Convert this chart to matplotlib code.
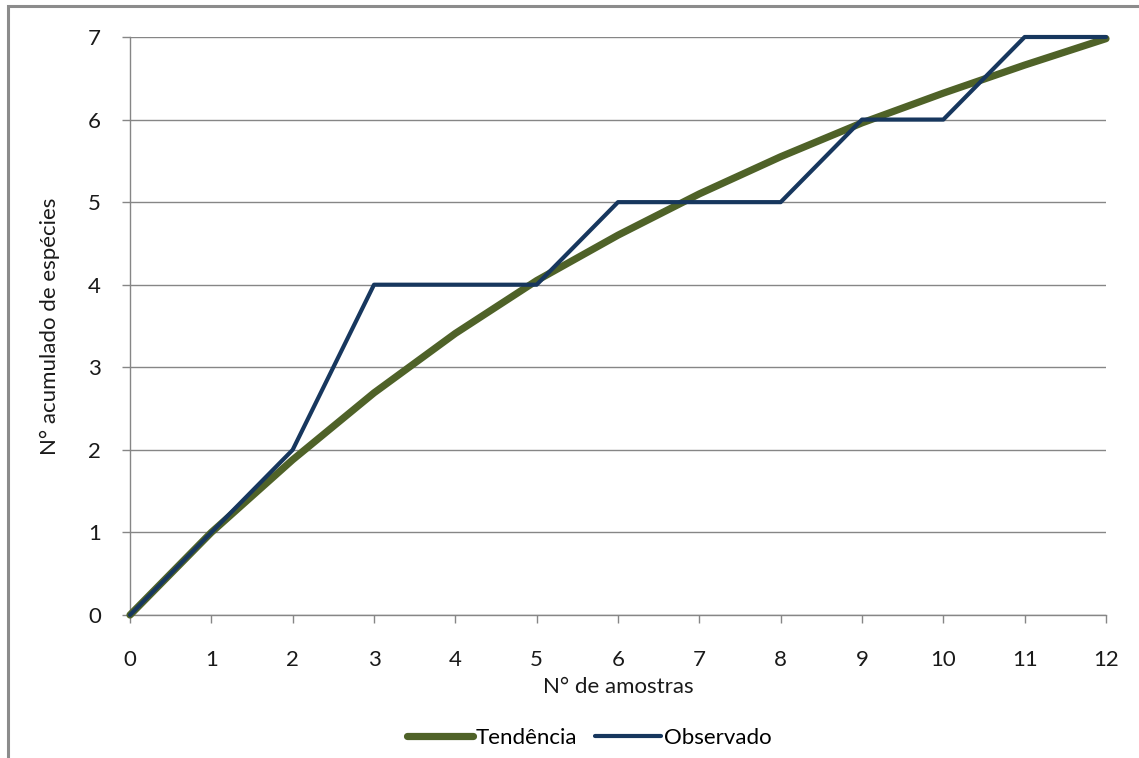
import matplotlib.pyplot as plt
from matplotlib.patches import Rectangle

amostras = [0, 1, 2, 3, 4, 5, 6, 7, 8, 9, 10, 11, 12]
tendencia = [0, 1.0, 1.88, 2.69, 3.41, 4.05, 4.6, 5.1, 5.55, 5.96, 6.32, 6.66, 6.98]
observado = [0, 1, 2, 4, 4, 4, 5, 5, 5, 6, 6, 7, 7]

verde = '#4F6228'
azul = '#17375E'
cinza = '#868686'

plt.rcParams['font.family'] = ['Lato', 'DejaVu Sans']

fig = plt.figure(figsize=(11.39, 7.58), dpi=100)
ax = fig.add_axes([130/1139, 1-615/758, (1106-130)/1139, (615-37)/758])

# moldura do grafico (so esquerda e topo visiveis)
fig.patches.append(Rectangle((8/1139, -0.1), 1.2, 1-6/758+0.1, transform=fig.transFigure,
                             fill=False, edgecolor='#8C8C8C', linewidth=2.2))

ax.plot(amostras, tendencia, color=verde, linewidth=5.2, label='Tendência',
        solid_capstyle='round', solid_joinstyle='round', clip_on=False, zorder=3)
ax.plot(amostras, observado, color=azul, linewidth=3.0, label='Observado',
        solid_capstyle='round', solid_joinstyle='round', clip_on=False, zorder=4)

ax.set_xlim(0, 12)
ax.set_ylim(0, 7)
ax.set_xticks(amostras)
ax.set_yticks(range(0, 8))
ax.grid(axis='y', color=cinza, linewidth=1)
ax.set_axisbelow(True)
for s in ['top', 'right']:
    ax.spines[s].set_visible(False)
for s in ['left', 'bottom']:
    ax.spines[s].set_color(cinza)
    ax.spines[s].set_linewidth(1)
ax.tick_params(axis='both', colors=cinza, labelcolor='#1a1a1a', labelsize=16,
               length=6, width=1, direction='out')
ax.tick_params(axis='x', pad=19)
ax.tick_params(axis='y', pad=15)

ax.set_xlabel('N° de amostras', fontsize=16, color='#1a1a1a', labelpad=5)
ax.set_ylabel('N° acumulado de espécies', fontsize=16, color='#1a1a1a', labelpad=20)

fig.legend(loc='center', bbox_to_anchor=(589/1139, 1-738/758), ncol=2, frameon=False,
           fontsize=16, handlelength=3.0, handletextpad=0.1, columnspacing=0.8)

fig.savefig('out.png', dpi=100)
